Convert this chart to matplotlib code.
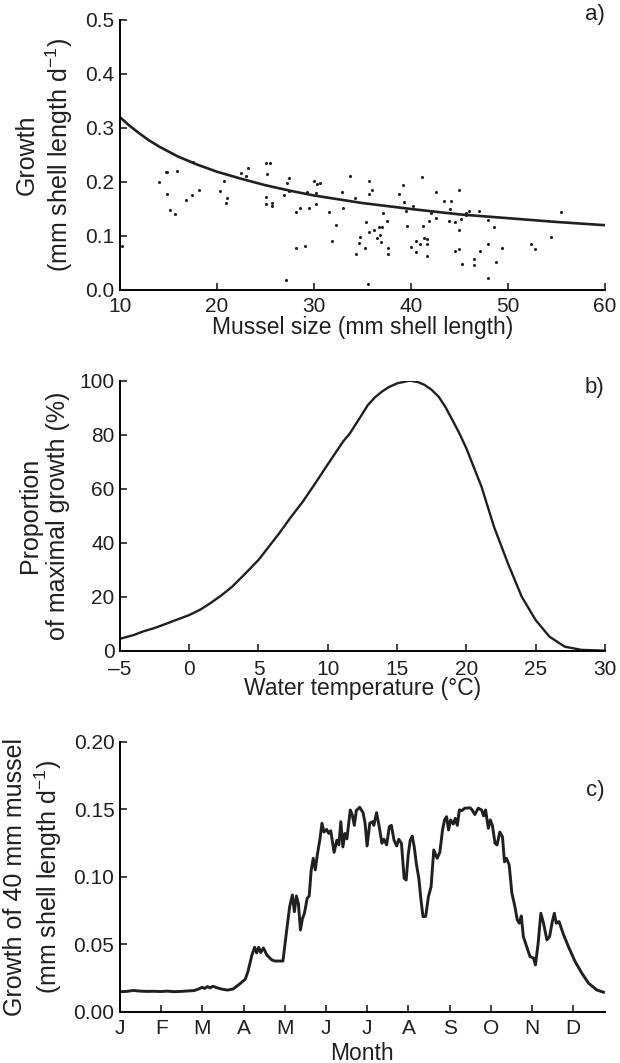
#!/usr/bin/env python3
import numpy as np
import matplotlib
matplotlib.use('Agg')
import matplotlib.pyplot as plt

'''
Three panel figure: mussel growth vs size, temperature response, seasonal growth
'''

# panel a: observed growth vs shell length
size_obs = [10.2, 14.0, 14.7, 14.8, 14.8, 15.2, 15.7, 15.9, 16.8, 17.4,
            17.5, 18.2, 20.3, 20.7, 21.0, 20.9, 22.5, 23.0, 23.2, 25.1,
            25.5, 25.2, 25.1, 25.1, 25.7, 25.7, 26.9, 27.4, 27.2, 27.4,
            27.1, 28.2, 28.6, 28.2, 29.1, 29.3, 29.5, 30.0, 30.3, 30.6,
            30.2, 30.2, 31.6, 32.3, 31.9, 33.7, 32.9, 33.0, 34.2, 34.3,
            34.6, 34.8, 35.3, 35.4, 35.6, 35.7, 35.7, 36.0, 35.7, 36.2,
            36.5, 36.7, 37.0, 36.8, 36.9, 37.1, 37.5, 37.6, 37.6, 38.8,
            39.2, 39.3, 39.5, 39.6, 40.0, 40.2, 40.5, 40.5, 40.9, 41.1,
            41.3, 41.4, 41.7, 41.7, 41.7, 41.9, 42.1, 42.6, 42.6, 43.4,
            44.1, 44.0, 43.9, 44.5, 44.5, 45.0, 45.0, 45.0, 45.2, 45.3,
            45.7, 45.7, 46.0, 46.5, 46.5, 47.0, 47.1, 48.0, 48.0, 48.0,
            48.6, 48.8, 49.4, 52.4, 52.8, 54.4, 55.5]
growth_obs = [0.082, 0.200, 0.219, 0.218, 0.177, 0.149, 0.140, 0.220, 0.167, 0.176,
              0.237, 0.185, 0.183, 0.201, 0.170, 0.162, 0.216, 0.212, 0.225, 0.236,
              0.236, 0.214, 0.173, 0.160, 0.162, 0.155, 0.175, 0.208, 0.198, 0.183,
              0.018, 0.144, 0.151, 0.078, 0.081, 0.182, 0.152, 0.202, 0.196, 0.199,
              0.179, 0.159, 0.144, 0.120, 0.090, 0.212, 0.182, 0.151, 0.170, 0.066,
              0.087, 0.099, 0.077, 0.126, 0.011, 0.202, 0.177, 0.186, 0.107, 0.112,
              0.096, 0.117, 0.117, 0.102, 0.089, 0.143, 0.128, 0.078, 0.067, 0.178,
              0.194, 0.163, 0.146, 0.119, 0.079, 0.156, 0.070, 0.091, 0.086, 0.210,
              0.119, 0.097, 0.094, 0.085, 0.063, 0.128, 0.142, 0.181, 0.133, 0.165,
              0.165, 0.150, 0.127, 0.126, 0.073, 0.185, 0.112, 0.075, 0.131, 0.048,
              0.143, 0.138, 0.147, 0.057, 0.046, 0.146, 0.072, 0.130, 0.086, 0.023,
              0.116, 0.051, 0.078, 0.085, 0.075, 0.098, 0.145]

# panel a: fitted curve
size_fit = [10, 11, 12, 13, 14, 16, 18, 20, 22.5, 25, 27.5, 30, 35, 40, 45, 50, 55, 60]
growth_fit = [0.320, 0.304, 0.290, 0.277, 0.266, 0.247, 0.232, 0.219, 0.206, 0.194,
              0.184, 0.175, 0.161, 0.150, 0.140, 0.133, 0.126, 0.120]

# panel b: temperature response
temp = [-5, -4, -3.4, -2.5, -1.7, 0, 0.8, 1.5, 2.3, 3.1, 4, 5, 6.5, 7.3, 8.2, 9.1,
        10, 11.1, 11.6, 12.3, 12.9, 13.4, 13.9, 14.4, 15, 15.9, 16.5, 17, 17.5, 18,
        18.5, 19, 19.5, 20, 21.1, 22, 23, 24, 25, 26, 27.1, 28.3, 30]
prop_max = [4.4, 5.8, 7.0, 8.4, 9.9, 13.2, 15.2, 17.5, 20.4, 23.7, 28.3, 33.6, 43.5,
            49.2, 55.2, 62.0, 69.0, 77.4, 80.5, 86.1, 91.0, 93.8, 95.9, 97.6, 99.0,
            100, 99.5, 98.4, 96.6, 94.1, 90.2, 85.4, 80.5, 75.0, 60.7, 45.9, 32.4,
            20.0, 11.4, 5.2, 1.5, 0.3, 0]

# panel c: daily growth of a 40 mm mussel
day = [0, 5, 10, 15, 20, 25, 30, 35, 40, 45, 50, 55, 58, 61, 63, 65, 67, 69, 72, 76,
       80, 84, 88, 93, 95, 98, 100, 101.5, 103, 104.5, 106.5, 109, 112.5, 115, 121,
       123.5, 126, 128, 129.5, 131, 132.5, 134, 135.5, 137, 139, 140.5, 142, 143.5,
       145, 146.5, 148.5, 150, 151.5, 153.5, 155, 156.5, 159, 161, 162.5, 164, 165.5,
       167, 168.5, 171, 172.5, 174, 175.5, 178, 180.5, 182, 183.5, 185.5, 187.5,
       188.5, 190.5, 192.5, 194.5, 196, 198, 200, 201.5, 203.5, 205.5, 207, 209, 211,
       212.5, 214, 215.5, 217, 218.5, 220, 222, 223.5, 225, 227, 229, 231, 233, 235.5,
       237.5, 239.5, 241, 242.5, 244, 245.5, 247.5, 249, 250.5, 252, 254, 256, 260,
       261.5, 263.5, 266, 268.5, 270, 271.5, 273.5, 275, 276.5, 278.5, 280, 282, 284,
       285.5, 287, 289, 291, 293, 295, 296.5, 298, 299.5, 302, 304.5, 307, 308.5,
       310.5, 312.5, 314.5, 317, 319, 321, 322.5, 324, 326, 329, 333, 338, 343, 348,
       354, 359]
growth_40 = [0.0148, 0.0150, 0.0157, 0.0152, 0.0150, 0.0151, 0.0149, 0.0152, 0.0148,
             0.0150, 0.0153, 0.0156, 0.0166, 0.0180, 0.0172, 0.0186, 0.0176, 0.0188,
             0.0177, 0.0166, 0.0160, 0.0168, 0.0198, 0.0240, 0.0296, 0.0420, 0.0477,
             0.0435, 0.0477, 0.0438, 0.0472, 0.0420, 0.0385, 0.0375, 0.0375, 0.0580,
             0.0778, 0.0864, 0.0740, 0.0857, 0.0800, 0.0605, 0.0690, 0.0730, 0.0840,
             0.0857, 0.1050, 0.1136, 0.1050, 0.1160, 0.1280, 0.1396, 0.1330, 0.1350,
             0.1320, 0.1340, 0.1180, 0.1270, 0.1235, 0.1407, 0.1220, 0.1320, 0.1280,
             0.1494, 0.1457, 0.1380, 0.1490, 0.1514, 0.1474, 0.1396, 0.1227, 0.1396,
             0.1407, 0.1380, 0.1474, 0.1370, 0.1247, 0.1277, 0.1235, 0.1370, 0.1380,
             0.1270, 0.1227, 0.1277, 0.1247, 0.0988, 0.0975, 0.1160, 0.1270, 0.1300,
             0.1220, 0.1100, 0.0980, 0.0827, 0.0704, 0.0706, 0.0850, 0.0926, 0.1198,
             0.1136, 0.1180, 0.1346, 0.1420, 0.1444, 0.1346, 0.1420, 0.1390, 0.1432,
             0.1380, 0.1494, 0.1490, 0.1507, 0.1510, 0.1494, 0.1460, 0.1507, 0.1494,
             0.1450, 0.1494, 0.1358, 0.1420, 0.1380, 0.1247, 0.1235, 0.1330, 0.1296,
             0.1110, 0.1136, 0.1086, 0.0877, 0.0790, 0.0680, 0.0655, 0.0709, 0.0556,
             0.0481, 0.0407, 0.0398, 0.0346, 0.0507, 0.0729, 0.0655, 0.0531, 0.0556,
             0.0667, 0.0729, 0.0655, 0.0667, 0.0580, 0.0481, 0.0370, 0.0284, 0.0210,
             0.0161, 0.0144]
month_labels = ['J', 'F', 'M', 'A', 'M', 'J', 'J', 'A', 'S', 'O', 'N', 'D']

XLABEL_FS = 16.5
YLABEL_FS = 18
TICK_FS = 15
INK = '#231f20'


def style_axes(ax, xpad=5):
    ax.spines['top'].set_visible(False)
    ax.spines['right'].set_visible(False)
    ax.spines['left'].set_linewidth(1.4)
    ax.spines['bottom'].set_linewidth(1.4)
    ax.tick_params(direction='in', length=5, width=1.2, labelsize=TICK_FS)
    ax.tick_params(axis='x', pad=xpad)
    ax.tick_params(axis='y', pad=4)


def main():
    plt.rcParams['font.family'] = ['Liberation Sans', 'DejaVu Sans']
    plt.rcParams['mathtext.fontset'] = 'custom'
    plt.rcParams['mathtext.rm'] = 'Liberation Sans'
    plt.rcParams['mathtext.it'] = 'Liberation Sans:italic'
    plt.rcParams['text.color'] = INK
    plt.rcParams['axes.labelcolor'] = INK
    plt.rcParams['xtick.color'] = INK
    plt.rcParams['ytick.color'] = INK

    fig = plt.figure(figsize=(6.2, 10.63), dpi=100)
    left, width, height = 0.1935, 0.782, 0.254
    ax_a = fig.add_axes([left, 0.7272, width, height])
    ax_b = fig.add_axes([left, 0.3879, width, height])
    ax_c = fig.add_axes([left, 0.0483, width, height])

    # a) growth vs mussel size
    ax_a.scatter(size_obs, growth_obs, s=5, color=INK, linewidths=0, zorder=3)
    ax_a.plot(size_fit, growth_fit, color=INK, lw=1.9)
    ax_a.set_xlim(10, 60)
    ax_a.set_ylim(0, 0.5)
    ax_a.set_xticks([10, 20, 30, 40, 50, 60])
    ax_a.set_yticks([0.0, 0.1, 0.2, 0.3, 0.4, 0.5])
    ax_a.set_yticklabels(['0.0', '0.1', '0.2', '0.3', '0.4', '0.5'])
    ax_a.set_xlabel('Mussel size (mm shell length)', fontsize=XLABEL_FS, labelpad=0)
    ax_a.set_ylabel('Growth\n(mm shell length d$^{-1}$)', fontsize=YLABEL_FS, labelpad=7)
    ax_a.text(1.0, 1.02, 'a)', transform=ax_a.transAxes, ha='right', va='center',
              fontsize=16)
    style_axes(ax_a)

    # b) temperature response
    ax_b.plot(temp, prop_max, color=INK, lw=1.7)
    ax_b.set_xlim(-5, 30)
    ax_b.set_ylim(0, 100)
    ax_b.set_xticks([-5, 0, 5, 10, 15, 20, 25, 30])
    ax_b.set_xticklabels(['\u20135', '0', '5', '10', '15', '20', '25', '30'])
    ax_b.set_yticks([0, 20, 40, 60, 80, 100])
    ax_b.set_xlabel('Water temperature (\u00b0C)', fontsize=XLABEL_FS, labelpad=-1)
    ax_b.set_ylabel('Proportion\nof maximal growth (%)', fontsize=YLABEL_FS, labelpad=7)
    ax_b.text(1.0, 0.974, 'b)', transform=ax_b.transAxes, ha='right', va='center',
              fontsize=16)
    style_axes(ax_b, xpad=6.5)

    # c) seasonal growth of a 40 mm mussel
    ax_c.plot(day, growth_40, color=INK, lw=2.1)
    ax_c.set_xlim(0, 360)
    ax_c.set_ylim(0, 0.2)
    ax_c.set_xticks(np.arange(12) * 30.6)
    ax_c.set_xticklabels(month_labels)
    ax_c.set_yticks([0.0, 0.05, 0.10, 0.15, 0.20])
    ax_c.set_yticklabels(['0.00', '0.05', '0.10', '0.15', '0.20'])
    ax_c.set_xlabel('Month', fontsize=XLABEL_FS, labelpad=3)
    ax_c.set_ylabel('Growth of 40 mm mussel\n(mm shell length d$^{-1}$)',
                    fontsize=YLABEL_FS, labelpad=7)
    ax_c.text(1.0, 0.818, 'c)', transform=ax_c.transAxes, ha='right', va='center',
              fontsize=16)
    style_axes(ax_c)

    fig.savefig('out.png', dpi=100)


if __name__ == "__main__":
    main()
